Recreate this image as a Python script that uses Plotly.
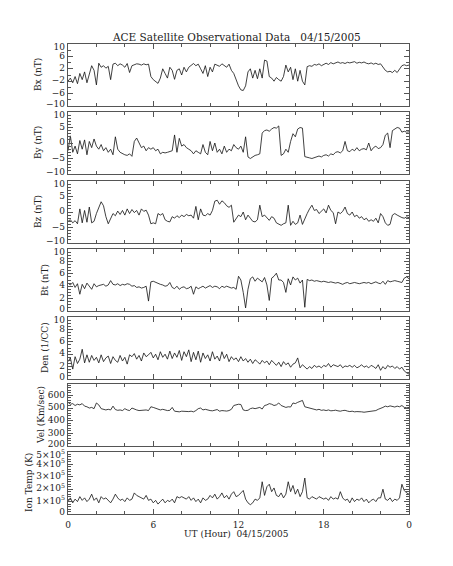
import plotly.graph_objects as go

# ---------------- data (10-minute samples, UT hours 0..24) ----------------
hours = [i / 6 for i in range(145)]

bx = [
    -2.0, -1.0, -2.5, -0.5, -2.8, 0.5,
    -1.5, 1.0, -2.5, 0.0, 3.0, 1.5,
    -3.2, 3.8, 2.5, 3.0, 2.2, 2.8,
    -1.5, 3.5, 3.8, 3.0, 3.6, 3.2,
    2.5, 3.7, 0.8, 3.0, 3.4, 3.6,
    3.5, 3.2, 3.6, 3.3, 3.5, -0.5,
    -1.5, -2.0, -2.7, -1.0, 2.0, 0.5,
    -1.0, 2.5, 1.5, -1.4, 1.5, 2.0,
    0.0, 2.5, 1.0, 2.5, 3.2, 3.7,
    3.0, 3.5, 2.0, 0.5, 3.0, -0.5,
    2.5, 1.0, 3.5, 3.2, 2.8, 3.6,
    3.0, 2.5, 3.5, 1.5, 0.5, -1.5,
    -3.5, -4.8, -5.0, -3.5, 1.0, 2.0,
    -1.0, 1.5, -1.2, 2.0, -1.0, 4.8,
    4.5, -0.5, -1.0, -2.0, -0.8, -1.5,
    -2.0, -0.5, 3.2, 1.0, 2.5, -1.5,
    2.0, -2.0, 1.5, -2.0, -3.2, 2.7,
    3.0, 2.8, 3.4, 3.2, 3.6, 3.0,
    3.5, 3.8, 3.4, 4.0, 3.6, 3.8,
    4.2, 3.8, 4.0, 3.7, 4.1, 3.9,
    4.0, 4.3, 3.8, 4.1, 3.9, 4.2,
    3.8, 3.6, 3.9, 3.5, 3.8, 3.4,
    3.6, 2.5, 1.5, 1.0, 1.2, 0.8,
    1.5, 0.8, 2.0, 3.0, 3.3, 3.0,
    3.2,
]

by = [
    -2.5, 2.3, -3.0, -1.0, -3.5, 0.8,
    -2.0, 1.0, -3.8, 0.5, -1.5, 1.3,
    -1.0, -2.0, -0.5, -2.5, -1.5, -3.0,
    -2.0, -3.8, 2.0, -2.0, -3.0, -3.5,
    -3.8, -4.0, -3.5, -4.3, 0.5, 1.6,
    0.0, -1.5, -1.0, -2.5, -1.5, -2.0,
    -1.5, -2.5, -2.0, -3.5, -3.0, -3.2,
    -3.0, -2.8, -2.5, 2.6, -3.0, 1.5,
    -1.0, -0.5, -1.5, -2.0, -2.5, -3.5,
    -2.5, -3.0, -3.5, -0.5, -3.0, -3.8,
    0.5, -2.5, 0.0, -3.0, -2.0, -3.5,
    -1.0, -3.0, -2.0, -2.5, -0.5, -1.5,
    -2.0, -1.0, -3.0, 2.0, -4.5, -5.0,
    -4.5, -4.0, -3.8, -3.5, 3.2, 4.0,
    4.2, 3.8, 4.5, 5.0, 4.8, 5.5,
    -4.0, -3.5, -2.0, -3.0, 0.5, 3.0,
    2.0, 4.5, 5.0, 4.8, -4.4, -4.5,
    -4.8, -5.0, -4.7, -4.5, -4.2, -4.5,
    -4.0, -3.8, -4.2, -3.5, -3.8, -3.0,
    -2.8, -3.2, -2.5, 0.5, -2.5, -2.8,
    -2.0, -2.5, -1.5, -2.5, -2.0, -1.8,
    -2.2, 0.0, -2.5, -1.5, -1.0, -1.8,
    -1.5, -0.5, 2.5, 3.2, -1.5, 4.0,
    4.5, 5.0, 4.8, 3.5, 3.8, 3.5,
    3.6,
]

bz = [
    -3.0, -2.5, -3.5, -2.8, -3.8, 1.0,
    -3.5, 0.5, -3.3, 1.6, -3.5, -3.0,
    -0.5, 1.5, 3.3, 2.0, -1.5, -3.8,
    -2.0, -0.5, -1.2, 0.3, -0.8, 0.5,
    -1.0, 1.0, -0.5, 0.8, -0.2, 0.5,
    -1.0, 1.0, 0.2, 0.6, -1.0, -3.8,
    -3.5, -3.8, -0.5, -1.0, -0.5, -2.5,
    -3.0, -3.2, -1.5, -2.0, -1.2, -1.8,
    -1.0, -1.5, -0.8, -1.2, -1.0, -2.0,
    1.8, -2.5, 1.0, -1.0, -1.2, -0.5,
    -1.0, 0.5, 3.5, 3.8, 2.5, 3.6,
    3.0, 2.0, 1.5, 2.2, -3.3, -2.0,
    -1.0, -1.5, 0.0, -2.5, -1.0, -2.0,
    -3.0, -3.2, -2.5, 2.2, -1.5, -1.0,
    -2.0, -2.7, -1.5, -2.0, -3.5, -4.0,
    -4.3, -3.8, -3.5, 2.2, -4.3, -3.0,
    -4.0, -3.5, -1.0, -4.0, -2.0, -0.5,
    1.0, 2.2, 0.5, 0.8, -0.5, 0.2,
    1.0, -0.3, 2.2, 0.5, -0.2, -3.8,
    0.0, -0.5, 0.2, 1.6, -0.5, -1.0,
    0.0, -1.5, -1.0, -2.0, -1.5, -2.5,
    -2.0, -3.0, -2.5, -3.0, -2.0, -3.5,
    -0.5, -1.5, -3.5, -4.3, -4.0, -1.0,
    -0.5, -1.0, -1.5, -1.8, -2.0, -1.6,
    -1.8,
]

bt = [
    4.5, 4.2, 4.6, 3.8, 4.4, 2.7,
    4.3, 3.6, 4.5, 4.0, 3.5, 4.4,
    3.9, 4.1, 4.2, 4.3, 4.0, 4.2,
    4.9, 4.3, 4.2, 4.4, 4.1, 4.3,
    4.2, 4.4, 4.3, 4.0, 4.1, 3.8,
    3.9, 3.7, 3.8, 4.0, 1.6, 4.7,
    4.8, 4.6, 4.5, 4.3, 4.2, 4.0,
    4.1, 4.6, 3.8, 3.6, 4.0, 3.5,
    3.8, 3.9, 3.6, 3.7, 4.0, 2.7,
    3.9, 3.6, 3.8, 4.0, 3.7, 3.9,
    4.1, 3.8, 4.0, 3.9, 3.6, 4.0,
    3.8, 4.0, 3.9, 3.7, 3.8, 3.5,
    5.6, 5.0, 3.0, 0.5, 3.5, 5.2,
    5.5, 4.8, 5.3, 5.0, 4.7, 5.4,
    4.2, 1.7, 5.3, 5.6, 6.1, 5.0,
    5.0, 4.6, 3.0, 5.2, 4.2, 5.5,
    5.0, 5.3, 4.5, 5.0, 0.6, 5.1,
    4.9, 5.0, 4.8, 4.9, 4.8, 4.7,
    4.8, 4.7, 4.6, 4.7, 4.6, 4.5,
    4.6, 4.5, 4.3, 4.5, 4.6, 4.4,
    4.5, 4.6, 4.5, 4.4, 4.5, 4.6,
    4.5, 4.6, 4.4, 4.5, 4.7, 4.5,
    4.4, 4.8, 4.3, 4.9, 4.7, 4.8,
    4.9, 4.8, 4.7, 4.6, 5.3, 5.5,
    5.2,
]

den = [
    2.8, 3.4, 1.6, 3.6, 2.5, 3.2,
    4.8, 2.6, 3.9, 2.7, 3.8, 3.0,
    3.5, 2.6, 3.9, 2.8, 3.4, 3.7,
    2.5, 3.6, 3.0, 2.7, 3.8, 2.9,
    3.5, 2.4, 3.9, 3.6, 4.1, 3.2,
    3.8, 2.9, 4.2, 3.6, 3.9, 4.3,
    3.4, 4.0, 3.1, 4.4, 3.5, 4.0,
    3.2, 4.5, 3.3, 4.2, 3.5, 4.6,
    3.0, 4.4, 3.6, 4.7, 2.8, 4.3,
    3.1, 4.5, 2.7, 4.2, 3.3, 3.9,
    2.9, 4.4, 3.2, 3.7, 2.9, 4.4,
    3.3, 4.0, 2.8, 3.6, 3.1, 3.4,
    2.8, 3.6, 2.9, 3.3, 2.7, 3.2,
    2.5, 3.1, 2.8, 2.4, 3.0, 2.6,
    2.9, 2.3, 3.0, 2.6, 2.2, 2.7,
    2.0, 2.8, 2.3, 2.6, 1.9, 2.4,
    2.6, 3.4, 1.8, 2.3, 1.9, 1.6,
    2.0, 1.7, 2.2, 1.9, 2.1, 1.8,
    2.2, 2.0, 2.5, 1.9, 2.3, 2.1,
    2.0, 2.3, 1.8, 2.1, 2.0, 2.2,
    1.9, 2.2, 1.8, 2.0, 2.3, 1.9,
    2.1, 1.8, 2.2, 2.0, 1.7, 2.3,
    1.4, 2.0, 1.6, 2.2, 1.9, 2.1,
    1.7, 2.0, 1.6, 1.9, 1.3, 1.0,
    0.8,
]

vel = [
    545, 530, 535, 520, 530, 525,
    535, 515, 510, 500, 505, 495,
    540, 525, 495, 490, 485, 490,
    485, 515, 488, 482, 485, 480,
    495, 485, 480, 500, 490, 485,
    480, 482, 478, 485, 480, 510,
    505, 500, 495, 485, 490, 483,
    480, 482, 505, 475, 472, 470,
    475, 473, 470, 472, 475, 470,
    480, 495, 500, 485, 490, 482,
    480, 478, 485, 488, 475, 480,
    478, 476, 480, 490, 520, 525,
    530, 528, 485, 480, 482, 495,
    500, 495, 498, 505, 492, 520,
    525, 535, 530, 520, 525, 540,
    520, 510, 505, 510, 508, 540,
    535, 545, 550, 560, 510, 505,
    495, 490, 488, 485, 490, 482,
    485, 480, 485, 478, 480, 483,
    478, 475, 480, 482, 476, 472,
    475, 470, 472, 468, 470, 467,
    470, 468, 472, 475, 480, 490,
    495, 505, 515, 510, 517, 512,
    508, 515, 510, 520, 505, 502,
    505,
]

temp_e5 = [
    1.0, 1.3, 0.9, 1.2, 1.0, 1.4,
    1.1, 1.3, 1.0, 1.2, 1.6, 1.1,
    1.3, 0.9, 1.4, 1.2, 1.3, 1.1,
    0.9, 1.2, 1.6, 1.3, 1.1, 1.2,
    1.0, 1.3, 1.1, 1.2, 1.7, 1.5,
    1.4, 1.3, 1.2, 1.5, 1.1, 1.2,
    0.9, 1.1, 0.8, 1.0, 1.2, 0.9,
    1.1, 1.0, 1.2, 0.9, 1.4, 1.3,
    1.4, 1.3, 1.2, 1.4, 1.1, 1.3,
    1.0, 1.2, 0.9, 1.3, 1.1, 1.2,
    1.5, 1.3, 1.6, 1.2, 1.4, 1.7,
    1.3, 1.5, 1.2, 1.6, 1.8, 1.4,
    1.5, 1.7, 1.9, 1.2, 0.9, 0.75,
    0.9, 1.2, 1.1, 1.3, 2.6, 1.5,
    2.2, 2.4, 1.8, 2.1, 1.5, 1.4,
    1.7, 1.3, 1.6, 2.6, 1.8, 2.3,
    1.6, 2.0, 1.4, 1.8, 2.9, 1.3,
    1.2, 1.4, 1.3, 1.2, 1.4, 1.3,
    1.2, 1.3, 1.1, 1.4, 1.2, 1.3,
    1.2, 1.8, 1.3, 1.1, 1.2, 0.9,
    1.3, 1.0, 1.2, 1.1, 1.3, 1.0,
    1.2, 0.9, 1.1, 1.2, 1.0, 1.3,
    1.3, 2.0, 1.2, 1.1, 1.3, 1.0,
    1.2, 1.1, 1.3, 2.4, 1.9, 1.7,
    1.6,
]
temp = [v * 1e5 for v in temp_e5]

titles = ["Bx (nT)", "By (nT)", "Bz (nT)", "Bt (nT)", "Den (1/CC)", "Vel (Km/sec)", "Ion Temp (K)"]
x_tick_vals = [0, 6, 12, 18, 24]
x_tick_text = ["0", "6", "12", "18", "0"]
y_tick_vals = [
    [-10, -6, -2, 2, 6, 10],
    [-10, -5, 0, 5, 10],
    [-10, -5, 0, 5, 10],
    [0, 2, 4, 6, 8, 10],
    [0, 2, 4, 6, 8, 10],
    [200, 300, 400, 500, 600],
    [0, 1e5, 2e5, 3e5, 4e5, 5e5],
]
y_tick_text = [
    ["\u221210", "\u22126", "\u22122", "2", "6", "10"],
    ["\u221210", "\u22125", "0", "5", "10"],
    ["\u221210", "\u22125", "0", "5", "10"],
    ["0", "2", "4", "6", "8", "10"],
    ["0", "2", "4", "6", "8", "10"],
    ["200", "300", "400", "500", "600"],
    ["0", "1×10<sup>5</sup>", "2×10<sup>5</sup>", "3×10<sup>5</sup>",
     "4×10<sup>5</sup>", "5×10<sup>5</sup>"],
]
y_ranges = [[-10, 10], [-10, 10], [-10, 10], [0, 10], [0, 10], [200, 690], [0, 5e5]]
y_minor_step = [2, 1, 1, 0.5, 0.5, 20, 2e4]
main_title = "ACE Satellite Observational Data   04/15/2005"
x_title = "UT (Hour)  04/15/2005"

series = [bx, by, bz, bt, den, vel, temp]

# ---------------- layout geometry ----------------
W, H = 453, 566
L, R, T, B = 68, 44, 44, 52
plot_w = W - L - R
plot_h = H - T - B
panel_tops = [44, 112, 181, 249, 317, 384, 452]
ph = 62
ytitle_px = [38, 38, 38, 45, 45, 41, 29]

FONT = "DejaVu Serif"
AX = "#555555"
TXT = "#222222"

def frange(a, b, step):
    out = []
    v = a
    while v <= b + 1e-9:
        out.append(round(v, 6))
        v += step
    return out

fig = go.Figure()
layout = dict(
    width=W, height=H,
    margin=dict(l=L, r=R, t=T, b=B, pad=0),
    paper_bgcolor="white", plot_bgcolor="white",
    showlegend=False,
    font=dict(family=FONT, size=9, color=TXT),
)

annotations = []
for i, ys in enumerate(series):
    n = i + 1
    top = panel_tops[i]
    d0 = 1 - (top + ph - T) / plot_h
    d1 = 1 - (top - T) / plot_h
    lo, hi = y_ranges[i]
    fig.add_trace(go.Scatter(
        x=hours, y=ys, mode="lines",
        line=dict(color="#111111", width=0.8),
        xaxis=f"x{n}", yaxis=f"y{n}", hoverinfo="skip",
    ))
    # empty trace that carries the label-only axis
    fig.add_trace(go.Scatter(x=[None], y=[None], mode="lines",
                             xaxis=f"x{n}", yaxis=f"y{n + 7}", hoverinfo="skip"))
    xa = dict(
        domain=[0, 1], range=[0, 24], anchor=f"y{n}",
        tickmode="array", tickvals=x_tick_vals, ticktext=x_tick_text,
        showticklabels=(n == 7),
        ticks="inside", ticklen=5, tickwidth=1, tickcolor=AX,
        minor=dict(tickmode="array", tickvals=frange(0, 24, 2), ticks="inside",
                   ticklen=3, tickwidth=1, tickcolor=AX),
        showline=True, linecolor=AX, linewidth=1, mirror="ticks",
        showgrid=False, zeroline=False, fixedrange=True,
        tickfont=dict(family=FONT, size=9, color=TXT),
        ticklabelstandoff=2,
    )
    if n > 1:
        xa["matches"] = "x"
    ya = dict(
        domain=[d0, d1], range=[lo, hi], anchor=f"x{n}",
        tickmode="array", tickvals=y_tick_vals[i], showticklabels=False,
        ticks="inside", ticklen=5, tickwidth=1, tickcolor=AX,
        minor=dict(tickmode="array", tickvals=frange(lo, hi, y_minor_step[i]), ticks="inside",
                   ticklen=3, tickwidth=1, tickcolor=AX),
        showline=True, linecolor=AX, linewidth=1, mirror="ticks",
        showgrid=False, zeroline=False, fixedrange=True,
    )
    # label axis: labels at the ends nudged inward as in the original IDL plot
    unit = (hi - lo) / ph
    lab_pos = []
    for v in y_tick_vals[i]:
        if abs(v - hi) < 1e-9:
            p = v - 2.5 * unit
        elif abs(v - lo) < 1e-9:
            p = v + 2.5 * unit
        else:
            p = v + 1.0 * unit
        lab_pos.append(p)
    yl = dict(
        overlaying=f"y{n}", anchor=f"x{n}", side="left", range=[lo, hi],
        tickmode="array", tickvals=lab_pos, ticktext=y_tick_text[i],
        ticks="", showline=False, showgrid=False, zeroline=False, fixedrange=True,
        tickfont=dict(family=FONT, size=9, color=TXT),
        ticklabelstandoff=2,
    )
    layout["xaxis" if n == 1 else f"xaxis{n}"] = xa
    layout["yaxis" if n == 1 else f"yaxis{n}"] = ya
    layout[f"yaxis{n + 7}"] = yl
    annotations.append(dict(
        text=titles[i], xref="paper", yref="paper",
        x=(ytitle_px[i] - L) / plot_w, y=1 - (top + ph / 2 - T) / plot_h,
        textangle=-90, showarrow=False, xanchor="center", yanchor="middle",
        font=dict(family=FONT, size=9, color=TXT),
    ))

annotations.append(dict(
    text=main_title, xref="paper", yref="paper",
    x=(236 - L) / plot_w, y=1 + (T - 37) / plot_h,
    showarrow=False, xanchor="center", yanchor="middle",
    font=dict(family=FONT, size=10.5, color=TXT),
))
annotations.append(dict(
    text=x_title, xref="paper", yref="paper",
    x=(236 - L) / plot_w, y=-(534 - (H - B)) / plot_h,
    showarrow=False, xanchor="center", yanchor="middle",
    font=dict(family=FONT, size=9, color=TXT),
))
layout["annotations"] = annotations
fig.update_layout(**layout)
fig.write_html("out.html", config={"displayModeBar": False},
               post_script="document.body.style.margin='0';")
